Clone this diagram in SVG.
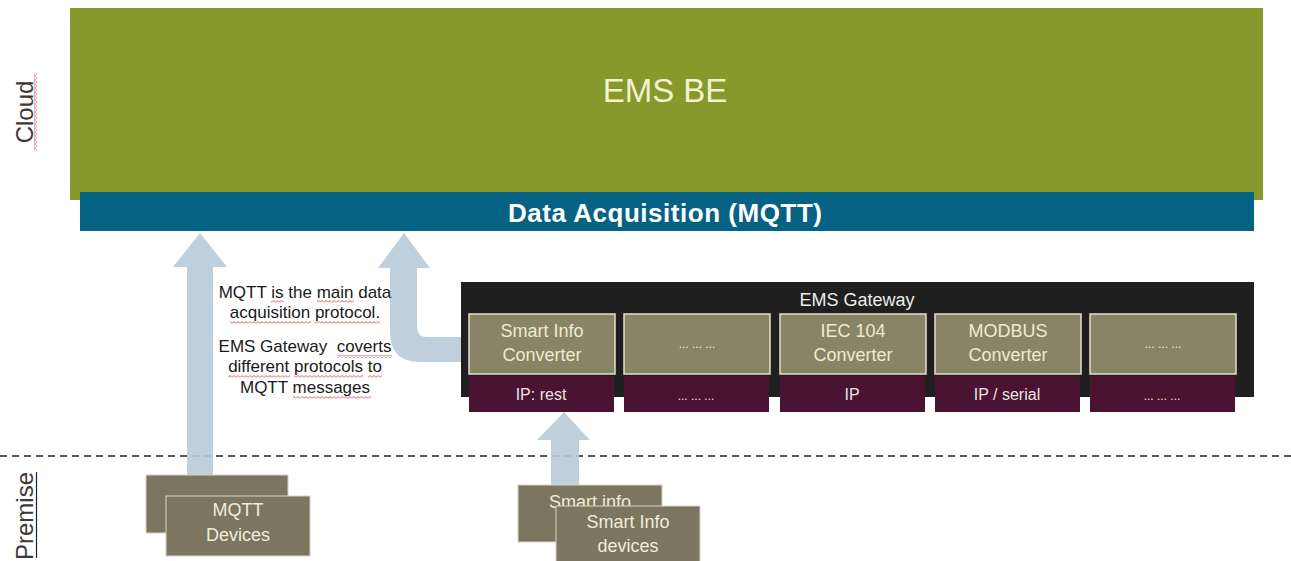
<svg xmlns="http://www.w3.org/2000/svg" width="1291" height="561" viewBox="0 0 1291 561">
<style>
  text { font-family: "Liberation Sans", Arial, sans-serif; }
  .side { font-size: 24px; fill: #3a3a3a; }
  .conv { fill: #8a8466; stroke: #e4e0cc; stroke-width: 1.5; }
  .proto { fill: #4a1331; }
  .convtxt { font-size: 18px; fill: #efeacf; text-anchor: middle; }
  .dots { font-size: 12px; fill: #efeacf; text-anchor: middle; }
  .prototxt { font-size: 16px; fill: #ece4e6; text-anchor: middle; }
  .dev { fill: #7b7660; stroke: #d8d4c0; stroke-width: 1; }
  .devtxt { font-size: 18px; fill: #f0ecd8; text-anchor: middle; }
  .note { font-size: 17px; fill: #1a1a1a; text-anchor: middle; white-space: pre; }
  .arrow { fill: #b9cad8; fill-opacity: 0.9; }
  .wavy { fill: url(#wave); }
</style>
<defs>
  <pattern id="wave" width="4" height="3" patternUnits="userSpaceOnUse">
    <path d="M0 2.5 L2 0.5 L4 2.5" fill="none" stroke="#d93030" stroke-width="0.8"/>
  </pattern>
  <pattern id="wavev" width="3" height="4" patternUnits="userSpaceOnUse">
    <path d="M2.5 0 L0.5 2 L2.5 4" fill="none" stroke="#d93030" stroke-width="0.8"/>
  </pattern>
</defs>
<rect width="1291" height="561" fill="#ffffff"/>

<g id="cloud-label">
  <text class="side" transform="translate(33,112) rotate(-90)" text-anchor="middle">Cloud</text>
  <rect x="34" y="74" width="3" height="76" fill="url(#wavev)"/>
</g>

<g id="premise-label">
  <text class="side" transform="translate(33,516) rotate(-90)" text-anchor="middle">Premise</text>
  <line x1="36.5" y1="472" x2="36.5" y2="558" stroke="#222" stroke-width="1.2"/>
</g>

<line id="boundary" x1="0" y1="456" x2="1291" y2="456" stroke="#222" stroke-width="1.5" stroke-dasharray="7 5"/>

<g id="ems-be">
  <rect x="70" y="8" width="1193" height="192" fill="#87992c"/>
  <text x="665" y="102" font-size="33" fill="#f3f2cf" text-anchor="middle">EMS BE</text>
</g>

<g id="data-acquisition">
  <rect x="80" y="192" width="1174" height="39" fill="#066283"/>
  <text x="665" y="222" font-size="26" font-weight="bold" fill="#ffffff" text-anchor="middle" textLength="314" lengthAdjust="spacing">Data Acquisition (MQTT)</text>
</g>

<g id="connectors">
  <path class="arrow" d="M200 233 L227 267 L213 267 L213 476 L187 476 L187 267 L173 267 Z"/>
  <path class="arrow" d="M404 233 L430 268 L417 268 L417 327 Q417 337 427 337 L462 337 L462 362 L420 362 Q390 362 390 332 L390 268 L378 268 Z"/>
  <path class="arrow" d="M564 412 L590 440 L579 440 L579 486 L551 486 L551 440 L537 440 Z"/>
</g>

<g id="note">
  <text class="note" x="305" y="298">MQTT is the main data</text>
  <text class="note" x="305" y="318">acquisition protocol.</text>
  <text class="note" x="305" y="352">EMS Gateway  coverts</text>
  <text class="note" x="305" y="372">different protocols to</text>
  <text class="note" x="305" y="393">MQTT messages</text>
  <rect class="wavy" x="271" y="300" width="13" height="3"/>
  <rect class="wavy" x="317" y="300" width="37" height="3"/>
  <rect class="wavy" x="230" y="321" width="81" height="3"/>
  <rect class="wavy" x="315" y="321" width="65" height="3"/>
  <rect class="wavy" x="337" y="355" width="55" height="3"/>
  <rect class="wavy" x="228" y="375" width="62" height="3"/>
  <rect class="wavy" x="294" y="375" width="69" height="3"/>
  <rect class="wavy" x="368" y="375" width="14" height="3"/>
  <rect class="wavy" x="293" y="396" width="78" height="3"/>
</g>

<g id="ems-gateway">
  <rect x="461" y="282" width="793" height="115" fill="#1f1f1f"/>
  <text x="857" y="306" font-size="18" fill="#ececec" text-anchor="middle">EMS Gateway</text>

  <g id="smartinfo-converter">
    <rect class="conv" x="469" y="314" width="146" height="60"/>
    <text class="convtxt" x="542" y="337">Smart Info</text>
    <text class="convtxt" x="542" y="361">Converter</text>
    <rect class="proto" x="469" y="376" width="145" height="36"/>
    <text class="prototxt" x="541" y="400">IP: rest</text>
  </g>
  <g id="other-converter-1">
    <rect class="conv" x="624" y="314" width="146" height="60"/>
    <text class="dots" x="697" y="348">... ... ...</text>
    <rect class="proto" x="624" y="376" width="145" height="36"/>
    <text class="dots" x="696" y="400">... ... ...</text>
  </g>
  <g id="iec104-converter">
    <rect class="conv" x="780" y="314" width="146" height="60"/>
    <text class="convtxt" x="853" y="337">IEC 104</text>
    <text class="convtxt" x="853" y="361">Converter</text>
    <rect class="proto" x="780" y="376" width="145" height="36"/>
    <text class="prototxt" x="852" y="400">IP</text>
  </g>
  <g id="modbus-converter">
    <rect class="conv" x="935" y="314" width="146" height="60"/>
    <text class="convtxt" x="1008" y="337">MODBUS</text>
    <text class="convtxt" x="1008" y="361">Converter</text>
    <rect class="proto" x="935" y="376" width="145" height="36"/>
    <text class="prototxt" x="1007" y="400">IP / serial</text>
  </g>
  <g id="other-converter-2">
    <rect class="conv" x="1090" y="314" width="146" height="60"/>
    <text class="dots" x="1163" y="348">... ... ...</text>
    <rect class="proto" x="1090" y="376" width="145" height="36"/>
    <text class="dots" x="1162" y="400">... ... ...</text>
  </g>
</g>

<g id="mqtt-devices">
  <rect class="dev" x="146" y="475" width="142" height="58"/>
  <rect class="dev" x="166" y="496" width="144" height="60"/>
  <text class="devtxt" x="238" y="516">MQTT</text>
  <text class="devtxt" x="238" y="541">Devices</text>
</g>

<g id="smartinfo-devices">
  <rect class="dev" x="518" y="485" width="144" height="57"/>
  <text class="devtxt" x="590" y="508">Smart info</text>
  <rect class="dev" x="556" y="506" width="144" height="58"/>
  <text class="devtxt" x="628" y="528">Smart Info</text>
  <text class="devtxt" x="628" y="552">devices</text>
</g>
</svg>
